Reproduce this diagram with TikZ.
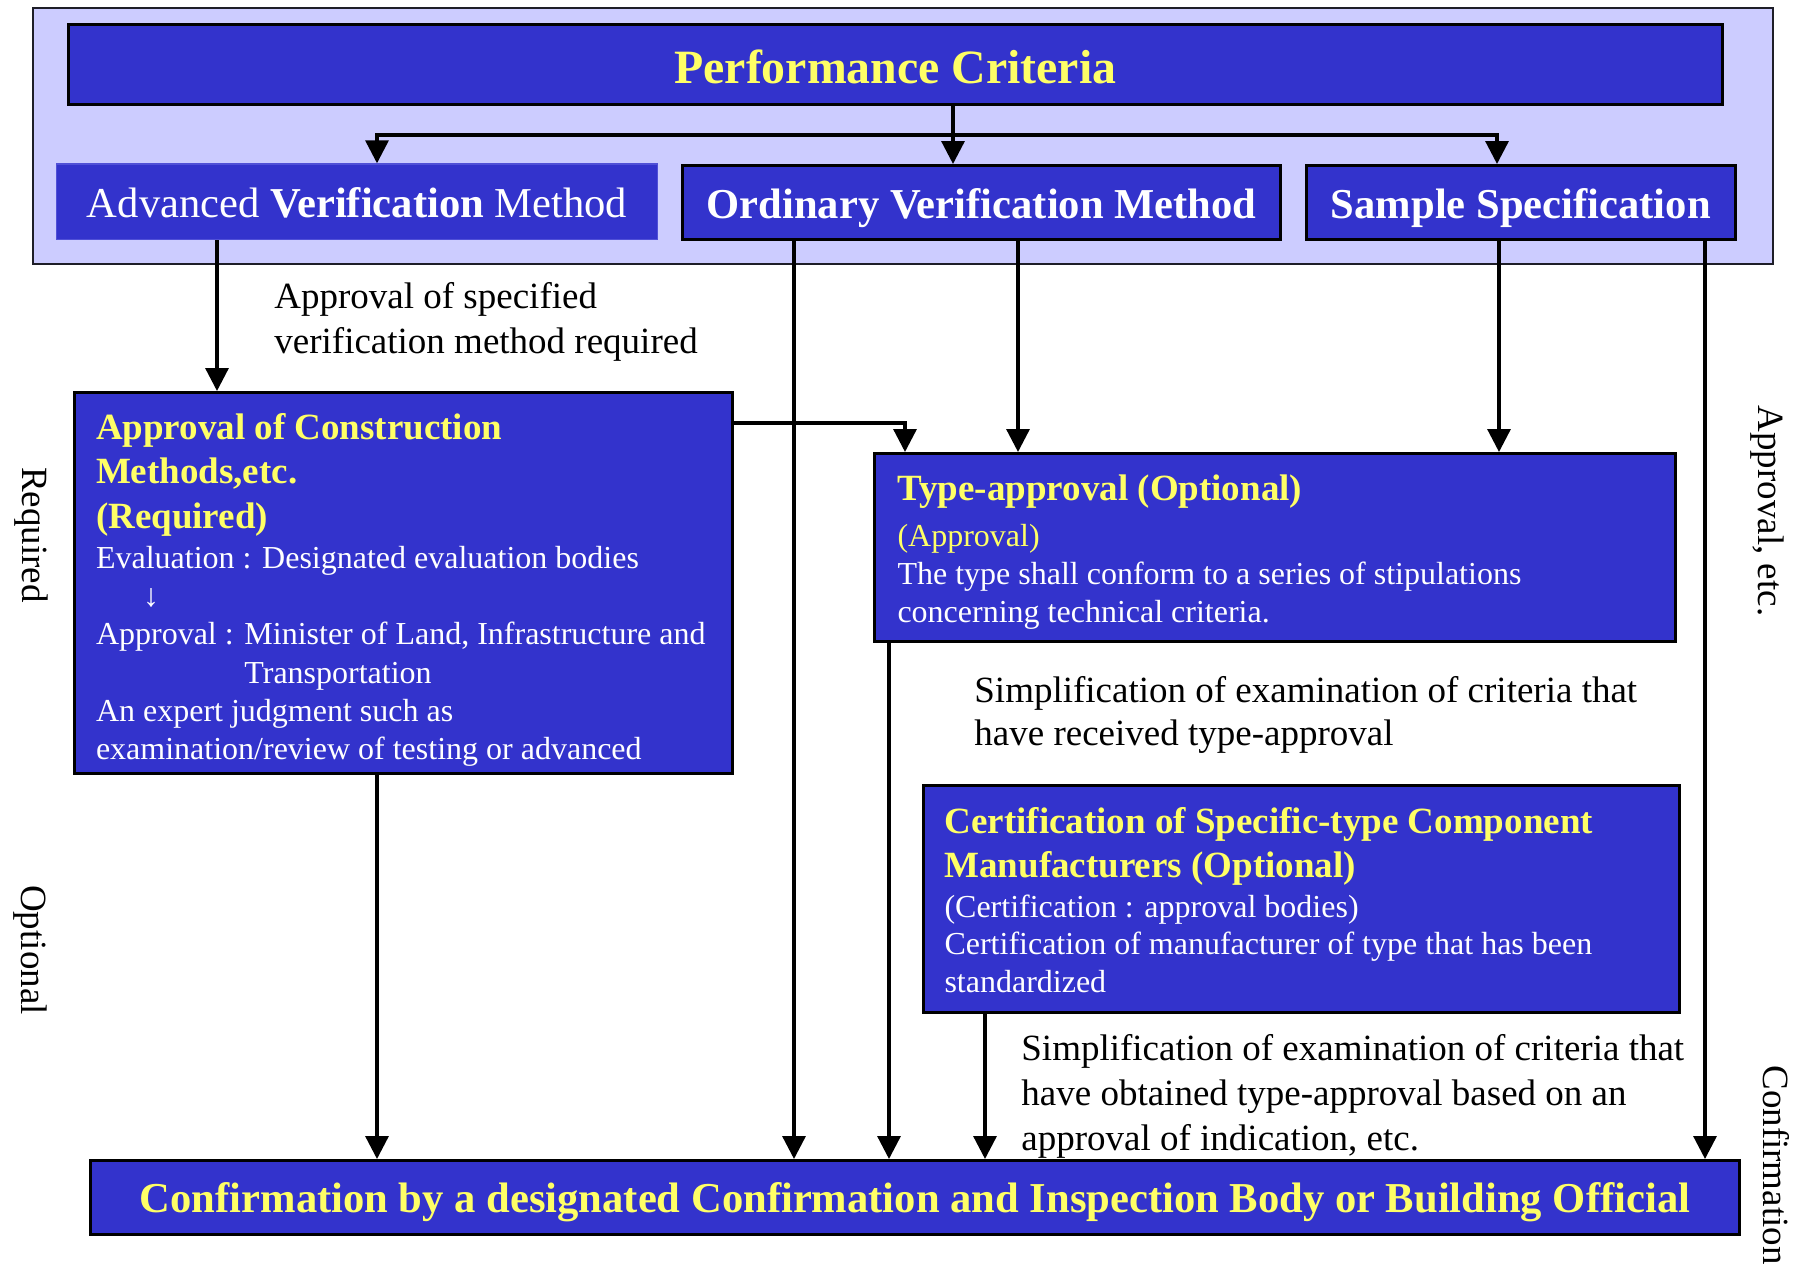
\documentclass[tikz,border=0pt]{standalone}
\usepackage{fontspec}
\setmainfont{Liberation Serif}
\usetikzlibrary{arrows.meta}
\definecolor{boxblue}{RGB}{51,51,204}
\definecolor{yel}{RGB}{255,255,102}
\definecolor{lav}{RGB}{204,204,255}
\definecolor{framegray}{RGB}{30,30,40}
\definecolor{advedge}{RGB}{80,80,215}
\newcommand\fPC{\fontsize{23.9}{28}\selectfont\bfseries}
\newcommand\fLvl{\fontsize{21.3}{25}\selectfont}
\newcommand\fTitle{\fontsize{18.5}{22}\selectfont\bfseries}
\newcommand\fBody{\fontsize{16}{19}\selectfont}
\newcommand\fLab{\fontsize{18.5}{22}\selectfont}
\newcommand\lnTitle[2]{\baselineskip=#1\relax\hbox{\fTitle\color{yel}#2}}
\newcommand\lnYel[2]{\baselineskip=#1\relax\hbox{\fBody\color{yel}#2}}
\newcommand\lnWhite[2]{\baselineskip=#1\relax\hbox{\fBody\color{white}#2}}
\newcommand\lnBlack[2]{\baselineskip=#1\relax\hbox{\fLab\color{black}#2}}
\newcommand\linestack[1]{\vtop{\lineskiplimit=-100pt\lineskip=0pt #1}}
\begin{document}
\begin{tikzpicture}[x=0.5pt,y=-0.5pt,
  box/.style={draw=black, line width=1.5pt, fill=boxblue, inner sep=0pt, anchor=north west},
  conn/.style={draw=black, line width=1.65pt},
  arr/.style={conn, -{Triangle[length=11.5pt,width=11.5pt]}},
  lab/.style={inner sep=0pt, font=\fLab, text=black}]
\useasboundingbox (0,0) rectangle (1802,1263);
\fill[white] (0,0) rectangle (1802,1263);

% top frame
\node[anchor=north west, draw=framegray, line width=1pt, fill=lav,
      minimum width=870.2pt, minimum height=128.15pt, inner sep=0pt] (frame) at (31.6,6.7) {};

\node[box, minimum width=827.2pt, minimum height=40.3pt, text height=29.65pt, text depth=10.65pt,
      font=\fPC, text=yel] (pc) at (66.6,22.7) {Performance Criteria};

\node[box, draw=advedge, line width=0.6pt, minimum width=300.5pt, minimum height=37.85pt,
      text height=26.85pt, text depth=11pt, font=\fLvl, text=white] (adv) at (56,163.3)
      {Advanced \textbf{Verification} Method};
\node[box, minimum width=299pt, minimum height=37pt, text height=26.5pt, text depth=10.5pt,
      font=\fLvl\bfseries, text=white] (ord) at (681,164) {Ordinary Verification Method};
\node[box, minimum width=214.25pt, minimum height=37pt, text height=26.5pt, text depth=10.5pt,
      font=\fLvl\bfseries, text=white] (smp) at (1305,164) {Sample Specification};

% approval of construction methods
\node[box, minimum width=328.75pt, minimum height=190.35pt, inner xsep=10.75pt,
      text height=23.5pt, text depth=166.85pt] (appr) at (73,391)
 {\hbox to 307.25pt{\linestack{%
   \lnTitle{0pt}{Approval of Construction}%
   \lnTitle{22pt}{Methods,etc.}%
   \lnTitle{22.5pt}{(Required)}%
   \lnWhite{20pt}{Evaluation : Designated evaluation bodies}%
   \lnWhite{19pt}{\hspace*{23.5pt}↓}%
   \lnWhite{19pt}{Approval : Minister of Land, Infrastructure and}%
   \lnWhite{19.5pt}{\phantom{Approval : }Transportation}%
   \lnWhite{19pt}{An expert judgment such as}%
   \lnWhite{19pt}{examination/review of testing or advanced}}\hss}};

% type approval
\node[box, minimum width=400.5pt, minimum height=94pt, inner xsep=11.5pt,
      text height=23.5pt, text depth=70.5pt] (type) at (873,452)
 {\hbox to 377.5pt{\linestack{%
   \lnTitle{0pt}{Type-approval (Optional)}%
   \lnYel{23pt}{(Approval)}%
   \lnWhite{19pt}{The type shall conform to a series of stipulations}%
   \lnWhite{19pt}{concerning technical criteria.}}\hss}};

% certification
\node[box, minimum width=378pt, minimum height=113.5pt, inner xsep=10.5pt,
      text height=24pt, text depth=89.5pt] (cert) at (922,784)
 {\hbox to 357pt{\linestack{%
   \lnTitle{0pt}{Certification of Specific-type Component}%
   \lnTitle{22pt}{Manufacturers (Optional)}%
   \lnWhite{20pt}{(Certification : approval bodies)}%
   \lnWhite{18.5pt}{Certification of manufacturer of type that has been}%
   \lnWhite{19pt}{standardized}}\hss}};

% confirmation
\node[box, minimum width=824.5pt, minimum height=37pt, text height=26pt, text depth=11pt,
      font=\fLvl\bfseries, text=yel] (conf) at (89,1159)
      {Confirmation by a designated Confirmation and Inspection Body or Building Official};

% labels
\node[lab, anchor=base west] (l1) at (274,308)
 {\linestack{\lnBlack{0pt}{Approval of specified}\lnBlack{22.5pt}{verification method required}}};
\node[lab, anchor=base west] (l2) at (974,702)
 {\linestack{\lnBlack{0pt}{Simplification of examination of criteria that}\lnBlack{21.5pt}{have received type-approval}}};
\node[lab, anchor=base west] (l3) at (1021,1060)
 {\linestack{\lnBlack{0pt}{Simplification of examination of criteria that}\lnBlack{22.5pt}{have obtained type-approval based on an}\lnBlack{22.5pt}{approval of indication, etc.}}};

\node[lab, rotate=-90] (rq) at (31,535) {Required};
\node[lab, rotate=-90] (op) at (30,950) {Optional};
\node[lab, rotate=-90] (ae) at (1767,511) {Approval, etc.};
\node[lab, rotate=-90] (cf) at (1776,1165) {Confirmation};

% guides
\coordinate (jn) at (953,135);
\coordinate (bL) at (377,135);
\coordinate (bR) at (1497,135);
\coordinate (g1) at (217,0);
\coordinate (g2) at (794,0);
\coordinate (g3) at (1018,0);
\coordinate (g4) at (1499,0);
\coordinate (g5) at (1705,0);
\coordinate (g6) at (905,0);
\coordinate (g7) at (377,0);
\coordinate (g8) at (889,0);
\coordinate (g9) at (985,0);
\coordinate (h1) at (0,423);

% connectors
\draw[arr] (pc.south -| jn) -- (ord.north -| jn);
\draw[arr] (bL) -- (bR) -- (smp.north -| bR);
\draw[arr] (bR) -- (bL) -- (adv.north -| bL);
\draw[arr] (adv.south -| g1) -- (appr.north -| g1);
\draw[arr] (ord.south -| g2) -- (conf.north -| g2);
\draw[arr] (ord.south -| g3) -- (type.north -| g3);
\draw[arr] (smp.south -| g4) -- (type.north -| g4);
\draw[arr] (smp.south -| g5) -- (conf.north -| g5);
\draw[arr] (appr.east |- h1) -- (h1 -| g6) -- (type.north -| g6);
\draw[arr] (appr.south -| g7) -- (conf.north -| g7);
\draw[arr] (type.south -| g8) -- (conf.north -| g8);
\draw[arr] (cert.south -| g9) -- (conf.north -| g9);
\end{tikzpicture}
\end{document}
